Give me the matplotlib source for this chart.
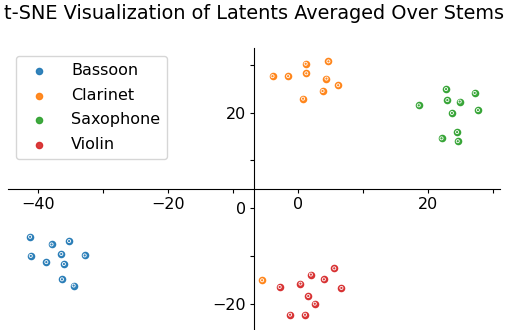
import numpy as np
import matplotlib
matplotlib.use("Agg")
import matplotlib.pyplot as plt
from matplotlib.ticker import MultipleLocator, FuncFormatter

# t-SNE coordinates
bassoon_x = [-41.2, -35.2, -37.9, -41.1, -36.4, -32.8, -38.7, -36.0, -36.3, -34.5]
bassoon_y = [-6.0, -6.9, -7.6, -10.0, -9.6, -9.9, -11.3, -11.7, -14.9, -16.2]
clarinet_x = [-3.9, -1.5, 1.2, 4.7, 1.3, 4.4, 6.2, 3.8, 0.8, -5.5]
clarinet_y = [27.6, 27.6, 30.2, 30.7, 28.2, 27.1, 25.7, 24.5, 22.9, -15.1]
saxophone_x = [18.6, 22.8, 23.0, 24.9, 27.2, 27.7, 23.7, 24.5, 22.1, 24.6]
saxophone_y = [21.5, 24.9, 22.6, 22.3, 24.1, 20.5, 19.9, 15.9, 14.6, 14.0]
violin_x = [5.6, 2.0, 4.0, 0.4, -2.8, 6.7, 1.6, 2.6, -1.2, 1.1]
violin_y = [-12.6, -13.9, -14.9, -15.8, -16.5, -16.7, -18.4, -20.0, -22.3, -22.3]

labels = ["Bassoon", "Clarinet", "Saxophone", "Violin"]
xs = [bassoon_x, clarinet_x, saxophone_x, violin_x]
ys = [bassoon_y, clarinet_y, saxophone_y, violin_y]
colors = ["#1f77b4", "#ff7f0e", "#2ca02c", "#d62728"]

fig = plt.figure(figsize=(5.08, 3.30), dpi=100)
ax = fig.add_axes([8 / 508, 0.0, 492 / 508, 1 - 48 / 330])

for x, y, c, lab in zip(xs, ys, colors, labels):
    ax.scatter(x, y, s=20, color=c, alpha=0.9, label=lab, zorder=3)
    ax.scatter(x, y, s=5, facecolors="none", edgecolors="white", linewidths=0.6, zorder=4)

ax.set_xlim(-44.6, 31.1)
ax.set_ylim(-25.5, 33.5)

ax.spines["left"].set_position("center")
ax.spines["bottom"].set_position("center")
ax.spines["right"].set_visible(False)
ax.spines["top"].set_visible(False)

fmt = FuncFormatter(lambda v, p: "" if int(round(v)) % 20 else f"{int(round(v))}".replace("-", "\u2212"))
ax.xaxis.set_major_locator(MultipleLocator(10))
ax.yaxis.set_major_locator(MultipleLocator(10))
ax.xaxis.set_major_formatter(fmt)
ax.yaxis.set_major_formatter(fmt)
ax.tick_params(labelsize=11.5, length=3, pad=2.5)

ax.legend(loc="upper left", fontsize=11.5, handletextpad=1.0,
          labelspacing=0.6, borderpad=0.45)
ax.set_title("t-SNE Visualization of Latents Averaged Over Stems", fontsize=13.9, pad=21)

fig.savefig("out.png", dpi=100)
